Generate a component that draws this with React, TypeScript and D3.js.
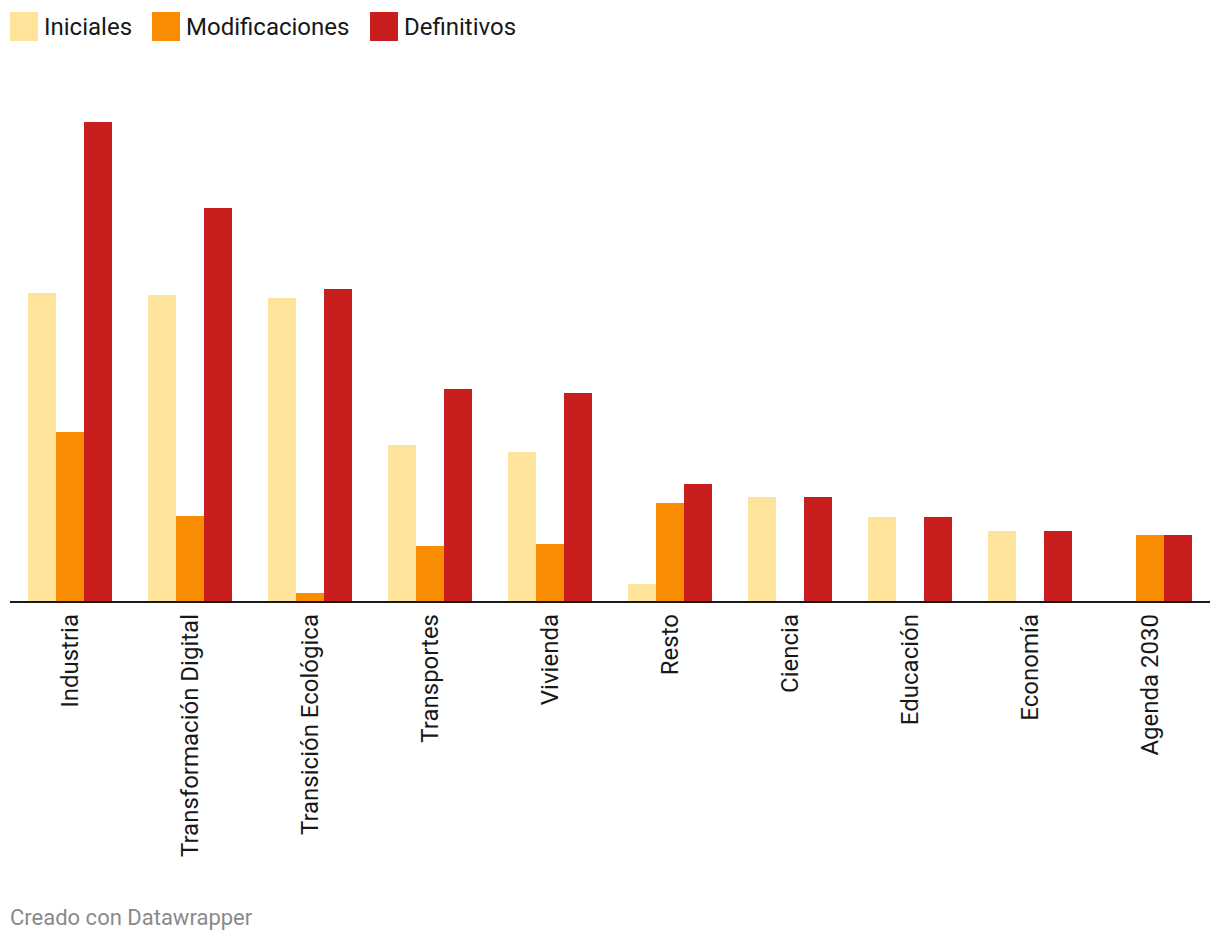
import React from "react";
import * as d3 from "d3";

const categories = [
  "Industria",
  "Transformación Digital",
  "Transición Ecológica",
  "Transportes",
  "Vivienda",
  "Resto",
  "Ciencia",
  "Educación",
  "Economía",
  "Agenda 2030",
];
const seriesNames = ["Iniciales", "Modificaciones", "Definitivos"];
const iniciales = [308, 306, 303, 156, 149, 17, 104, 84, 70, 0];
const modificaciones = [169, 85, 8, 55, 57, 98, 0, 0, 0, 66];
const definitivos = [479, 393, 312, 212, 208, 117, 104, 84, 70, 66];
const colors = ["#fee39b", "#f98c00", "#c81e1e"];

const W = 1220;
const H = 942;
const FONT = "Roboto, 'Noto Sans', sans-serif";

export default function App() {
  const series = [iniciales, modificaciones, definitivos];
  const x0 = d3
    .scaleBand<string>()
    .domain(categories)
    .range([10, 1210])
    .paddingInner(0.3)
    .paddingOuter(0.15);
  const x1 = d3
    .scaleBand<string>()
    .domain(seriesNames)
    .range([0, x0.bandwidth()])
    .padding(0);
  const baseline = 601;
  const y = d3.scaleLinear().domain([0, 479]).range([baseline, 122]);

  const legendX = [10, 152, 370];

  return (
    <svg
      width={W}
      height={H}
      style={{ position: "absolute", left: 0, top: 0, display: "block" }}
      fontFamily={FONT}
    >
      <rect width={W} height={H} fill="#fff" />
      {seriesNames.map((s, i) => (
        <g key={s} transform={`translate(${legendX[i]},12)`}>
          <rect width={28} height={29} fill={colors[i]} />
          <text x={34} y={22.5} fontSize={24} fill="#181818">
            {s}
          </text>
        </g>
      ))}
      {categories.map((c, ci) => (
        <g key={c} transform={`translate(${x0(c)},0)`}>
          {series.map((vals, si) =>
            vals[ci] > 0 ? (
              <rect
                key={si}
                x={x1(seriesNames[si])}
                y={y(vals[ci])}
                width={x1.bandwidth()}
                height={baseline - y(vals[ci])}
                fill={colors[si]}
              />
            ) : null
          )}
          <text
            transform={`translate(${x0.bandwidth() / 2},614) rotate(-90)`}
            textAnchor="end"
            dy="0.35em"
            fontSize={24}
            fill="#181818"
          >
            {c}
          </text>
        </g>
      ))}
      <line x1={10} x2={1210} y1={602} y2={602} stroke="#1a1a1a" strokeWidth={2} />
      <text x={10} y={925} fontSize={22} fill="#8a8a8a">
        Creado con Datawrapper
      </text>
    </svg>
  );
}
